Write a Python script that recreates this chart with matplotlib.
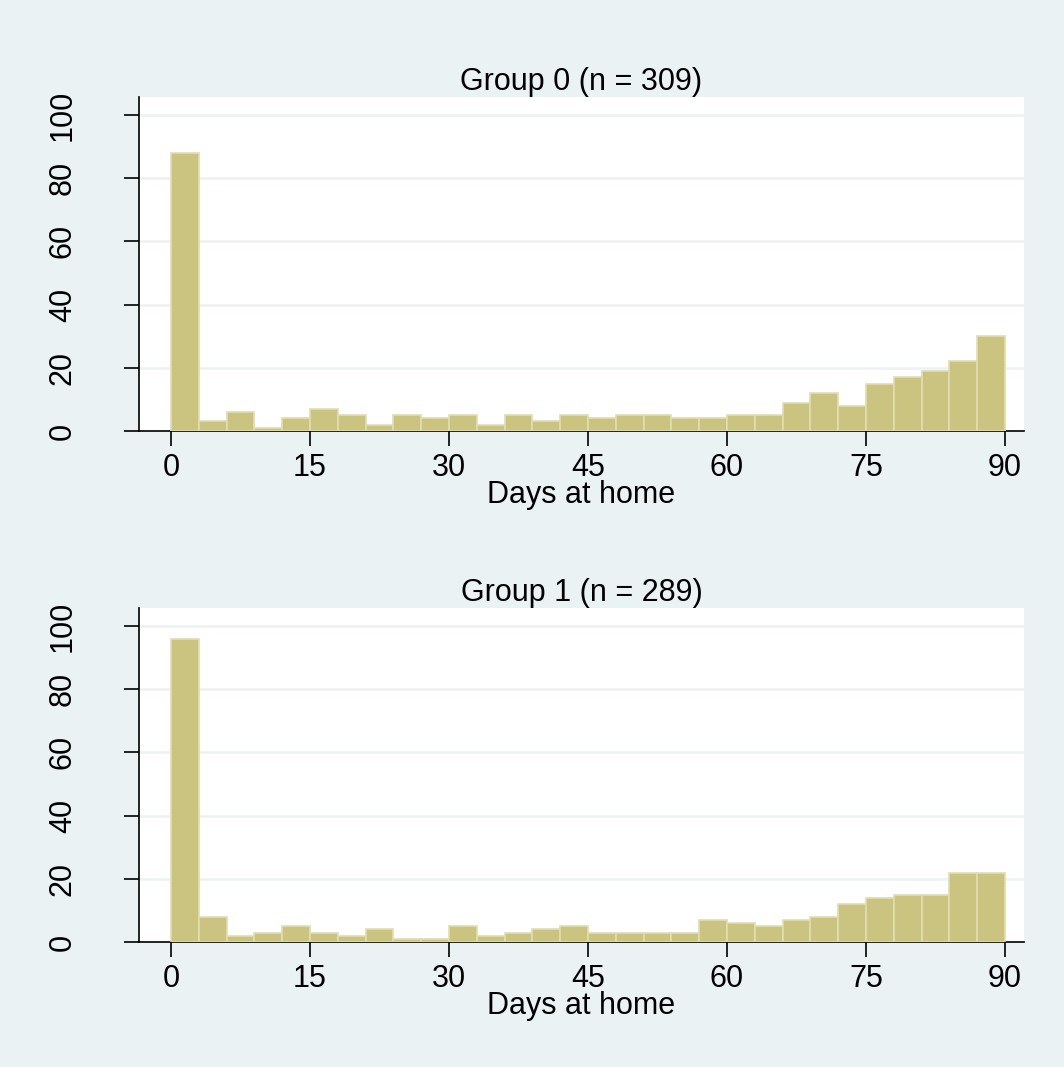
import matplotlib.pyplot as plt
import numpy as np

plt.rcParams['font.family'] = ['Liberation Sans', 'DejaVu Sans']

# bins of 3 days, 0 to 90
bin_edges = list(range(0, 93, 3))

group0_counts = [88, 3, 6, 1, 4, 7, 5, 2, 5, 4,
                 5, 2, 5, 3, 5, 4, 5, 5, 4, 4,
                 5, 5, 9, 12, 8, 15, 17, 19, 22, 30]
group1_counts = [96, 8, 2, 3, 5, 3, 2, 4, 1, 1,
                 5, 2, 3, 4, 5, 3, 3, 3, 3, 7,
                 6, 5, 7, 8, 12, 14, 15, 15, 22, 22]

titles = ['Group 0 (n = 309)', 'Group 1 (n = 289)']
x_ticks = [0, 15, 30, 45, 60, 75, 90]
y_ticks = [0, 20, 40, 60, 80, 100]

bg = '#eaf2f3'
bar_fill = '#cbc380'
bar_edge = '#e2ddb0'
fs = 22

fig = plt.figure(figsize=(10.64, 10.67), dpi=100)
fig.patch.set_facecolor(bg)

# axes boxes in figure fractions (left, bottom, width, height)
boxes = [[0.1306, 0.5961, 0.8318, 0.3130],
         [0.1306, 0.1171, 0.8318, 0.3131]]

for box, counts, title in zip(boxes, [group0_counts, group1_counts], titles):
    ax = fig.add_axes(box)
    ax.set_facecolor('white')
    lefts = np.array(bin_edges[:-1])
    widths = np.diff(bin_edges)
    ax.bar(lefts, counts, width=widths, align='edge', color=bar_fill,
           edgecolor=bar_edge, linewidth=1.2, zorder=3)

    ax.set_xlim(-3.45, 92.05)
    ax.set_ylim(0, 105.7)
    ax.set_xticks(x_ticks)
    ax.set_yticks(y_ticks)

    # light horizontal grid like Stata s2color
    ax.grid(axis='y', color=bg, linewidth=1.8, zorder=0)
    ax.set_axisbelow(True)

    for side in ['top', 'right']:
        ax.spines[side].set_visible(False)
    ax.spines['left'].set_linewidth(1.2)
    ax.spines['bottom'].set_linewidth(1.2)

    ax.tick_params(axis='x', direction='out', length=11, width=1.2,
                   labelsize=fs, pad=5)
    ax.tick_params(axis='y', direction='out', length=11, width=1.2,
                   labelsize=fs, pad=33)
    for lab in ax.get_yticklabels():
        lab.set_rotation(90)
        lab.set_va('center')

    ax.set_xlabel('Days at home', fontsize=fs, labelpad=-2)
    ax.set_title(title, fontsize=fs, pad=3)

plt.savefig('out.png', dpi=100, facecolor=bg)
